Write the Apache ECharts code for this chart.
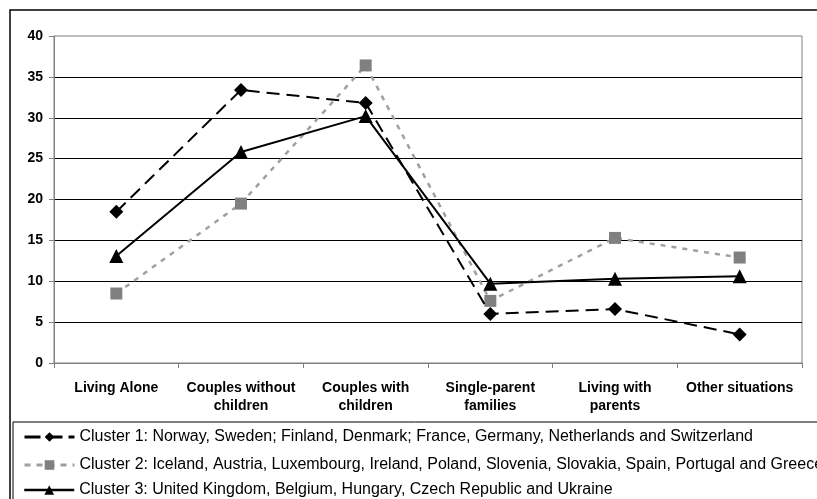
<!DOCTYPE html>
<html>
<head>
<meta charset="utf-8">
<script src="https://cdn.jsdelivr.net/npm/echarts@6/dist/echarts.min.js"></script>
<style>
  html, body { margin: 0; padding: 0; background: #ffffff; }
  #chart { width: 817px; height: 499px; }
</style>
</head>
<body>
<div id="chart"></div>
<script>
// Household situations by country cluster (%)
const categories = [
  'Living Alone',
  'Couples without\nchildren',
  'Couples with\nchildren',
  'Single-parent\nfamilies',
  'Living with\nparents',
  'Other situations'
];

const cluster1Name = 'Cluster 1: Norway, Sweden; Finland, Denmark; France, Germany, Netherlands and Switzerland';
const cluster2Name = 'Cluster 2: Iceland, Austria, Luxembourg, Ireland, Poland, Slovenia, Slovakia, Spain, Portugal and Greece';
const cluster3Name = 'Cluster 3: United Kingdom, Belgium, Hungary, Czech Republic and Ukraine';

const cluster1 = [18.5, 33.4, 31.8, 6.0, 6.6, 3.5];
const cluster2 = [8.5, 19.5, 36.4, 7.6, 15.3, 12.9];
const cluster3 = [13.1, 25.8, 30.2, 9.7, 10.3, 10.6];

const yTicks = { min: 0, max: 40, interval: 5 };

const FONT = '"Liberation Sans", Arial, sans-serif';

// one legend row per cluster, stacked inside the framed key box
function legendRow(name, top, lineStyle) {
  return {
    orient: 'horizontal',
    left: 23, top: top, padding: 0,
    itemWidth: 50, itemHeight: 12,
    textStyle: { fontFamily: FONT, fontSize: 16, color: '#000' },
    data: [{ name: name, lineStyle: lineStyle }]
  };
}

const chart = echarts.init(document.getElementById('chart'), null, { renderer: 'canvas' });

chart.setOption({
  animation: false,
  backgroundColor: '#ffffff',
  textStyle: { fontFamily: FONT },
  graphic: [
    { type: 'rect', shape: { x: 10, y: 10, width: 830, height: 520 },
      style: { fill: null, stroke: '#000', lineWidth: 1.5 }, z: 0 },
    { type: 'rect', shape: { x: 13, y: 422, width: 830, height: 120 },
      style: { fill: null, stroke: '#000', lineWidth: 1 }, z: 0 }
  ],
  grid: {
    left: 54, right: 15, top: 36, bottom: 136,
    show: true, borderColor: '#808080', borderWidth: 1
  },
  legend: [
    legendRow(cluster1Name, 429, { color: '#000', width: 3, type: [16, 6] }),
    legendRow(cluster2Name, 457, { color: '#a0a0a0', width: 3, type: [6, 6] }),
    legendRow(cluster3Name, 482, { color: '#000', width: 2.5, type: 'solid' })
  ],
  xAxis: {
    type: 'category',
    data: categories,
    boundaryGap: true,
    axisLine: { lineStyle: { color: '#808080', width: 1 } },
    axisTick: { show: true, length: 5, lineStyle: { color: '#808080' } },
    axisLabel: {
      fontFamily: FONT, fontSize: 14, fontWeight: 'bold', color: '#000',
      margin: 16, lineHeight: 18, interval: 0
    },
    splitLine: { show: false }
  },
  yAxis: {
    type: 'value',
    min: yTicks.min, max: yTicks.max, interval: yTicks.interval,
    axisLine: { show: true, lineStyle: { color: '#808080' } },
    axisTick: { show: true, length: 5, lineStyle: { color: '#808080' } },
    axisLabel: { fontFamily: FONT, fontSize: 14, fontWeight: 'bold', color: '#000', margin: 11 },
    splitLine: { show: true, showMinLine: false, showMaxLine: false, lineStyle: { color: '#000', width: 1 } }
  },
  series: [
    {
      name: cluster1Name, type: 'line', data: cluster1,
      symbol: 'diamond', symbolSize: 14,
      itemStyle: { color: '#000' },
      lineStyle: { color: '#000', width: 2, type: [13, 7] },
      z: 3
    },
    {
      name: cluster2Name, type: 'line', data: cluster2,
      symbol: 'rect', symbolSize: 12,
      itemStyle: { color: '#808080' },
      lineStyle: { color: '#a0a0a0', width: 2.5, type: [5, 6] },
      z: 2
    },
    {
      name: cluster3Name, type: 'line', data: cluster3,
      symbol: 'triangle', symbolSize: 14,
      itemStyle: { color: '#000' },
      lineStyle: { color: '#000', width: 2, type: 'solid' },
      z: 4
    }
  ]
});
</script>
</body>
</html>
